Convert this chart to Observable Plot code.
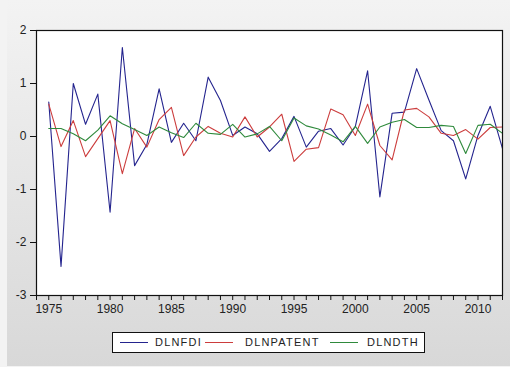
<!DOCTYPE html>
<html>
<head>
<meta charset="utf-8">
<script src="https://cdn.jsdelivr.net/npm/d3@7"></script>
<script src="https://cdn.jsdelivr.net/npm/@observablehq/plot@0.6"></script>
<style>
  html, body { margin: 0; padding: 0; background: #f3f3f3; width: 510px; height: 367px; overflow: hidden; }
  #panel { position: absolute; left: 7px; top: 0; width: 503px; height: 366px;
           background: linear-gradient(#f3f3f3, #d8d8d8); }
  #chart { position: absolute; left: 0; top: 0; }
  #legend { position: absolute; left: 112px; top: 332px; width: 311px; height: 19px;
            background: white; border: 1px solid #111; }
  .item-line { position: absolute; top: 9px; height: 0; width: 28px; border-top: 1px solid; }
  .item-text { position: absolute; top: 3px; font: 11px "Liberation Sans", Arial, sans-serif;
               letter-spacing: 1.2px; color: #222; }
</style>
</head>
<body>
<div id="panel"></div>
<div id="chart"></div>
<div id="legend"></div>
<script>
const years = d3.range(1975, 2013);
const seriesNames = ["DLNFDI", "DLNPATENT", "DLNDTH"];
const seriesColors = ["#24248e", "#cc3d3d", "#2f8a3c"];
const dlnfdi = [0.65, -2.45, 1.0, 0.23, 0.8, -1.43, 1.68, -0.55, -0.15, 0.9,
  -0.11, 0.25, -0.08, 1.12, 0.68, 0.02, 0.18, 0.05, -0.28, -0.04,
  0.38, -0.2, 0.1, 0.15, -0.16, 0.19, 1.24, -1.14, 0.44, 0.46,
  1.28, 0.69, 0.11, -0.08, -0.8, 0.02, 0.57, -0.23];
const dlnpatent = [0.61, -0.19, 0.3, -0.38, -0.04, 0.3, -0.7, 0.15, -0.2, 0.32,
  0.55, -0.36, -0.01, 0.19, 0.06, -0.01, 0.37, -0.01, 0.18, 0.42,
  -0.47, -0.24, -0.21, 0.52, 0.41, 0.02, 0.61, -0.17, -0.44, 0.5,
  0.53, 0.37, 0.06, 0.02, 0.13, -0.05, 0.17, 0.18];
const dlndth = [0.15, 0.15, 0.05, -0.08, 0.12, 0.39, 0.24, 0.13, 0.02, 0.18,
  0.07, -0.02, 0.25, 0.06, 0.04, 0.23, -0.01, 0.05, 0.19, -0.08,
  0.35, 0.2, 0.14, 0.03, -0.1, 0.19, -0.13, 0.18, 0.27, 0.32,
  0.17, 0.17, 0.21, 0.19, -0.32, 0.21, 0.23, 0.06];
const yTicks = [-3, -2, -1, 0, 1, 2];
const xTicks = d3.range(1974, 2013);

const valuesBySeries = [dlnfdi, dlnpatent, dlndth];
const rows = [];
seriesNames.forEach((name, si) => {
  years.forEach((yr, i) => rows.push({year: yr, value: valuesBySeries[si][i], series: name}));
});

const chart = Plot.plot({
  width: 510,
  height: 322,
  marginLeft: 36,
  marginRight: 8,
  marginTop: 30,
  marginBottom: 27,
  style: {background: "transparent", fontFamily: "'Liberation Sans', Arial, sans-serif", fontSize: "12px", color: "#222"},
  x: {domain: [1974, 2012]},
  y: {domain: [-3, 2]},
  color: {domain: seriesNames, range: seriesColors},
  marks: [
    Plot.frame({fill: "white", stroke: "none"}),
    Plot.axisY({ticks: yTicks, tickFormat: d => String(d), tickSize: 6, tickPadding: 4, label: null, stroke: "#111", fontSize: 12}),
    Plot.axisX({ticks: xTicks, tickFormat: d => d % 5 === 0 ? String(d) : "", tickSize: 5, tickPadding: 4, label: null, stroke: "#111", fontSize: 12}),
    Plot.line(rows, {x: "year", y: "value", z: "series", stroke: "series", strokeWidth: 1.1}),
    Plot.frame({stroke: "#111", strokeWidth: 1.2})
  ]
});
document.getElementById("chart").appendChild(chart);

const legend = document.getElementById("legend");
const lineLefts = [7, 92, 217];
const textLefts = [42, 132, 254];
seriesNames.forEach((name, i) => {
  const ln = document.createElement("div");
  ln.className = "item-line";
  ln.style.left = lineLefts[i] + "px";
  ln.style.borderTopColor = seriesColors[i];
  legend.appendChild(ln);
  const tx = document.createElement("div");
  tx.className = "item-text";
  tx.style.left = textLefts[i] + "px";
  tx.textContent = name;
  legend.appendChild(tx);
});
</script>
</body>
</html>
